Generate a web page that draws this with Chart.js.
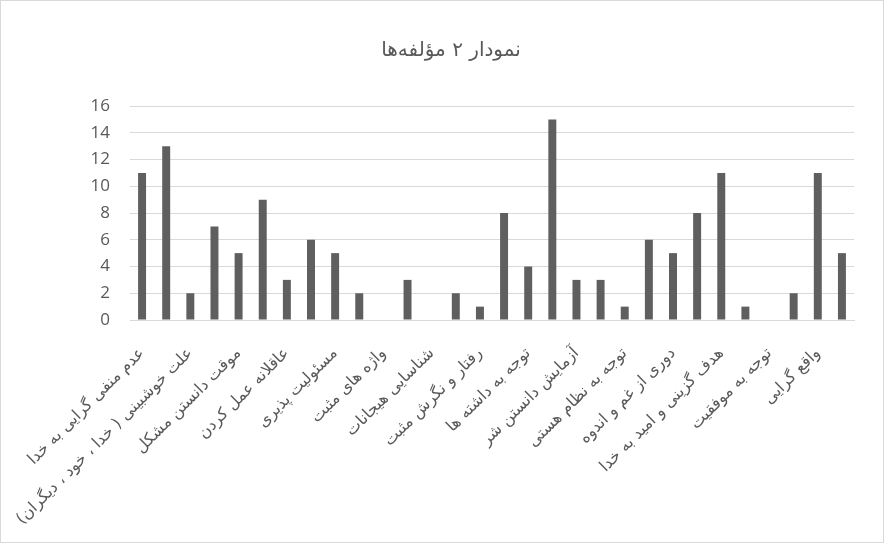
<!DOCTYPE html>
<html>
<head>
<meta charset="utf-8">
<script src="https://cdn.jsdelivr.net/npm/chart.js@4"></script>
<style>
  html, body { margin: 0; padding: 0; background: #fff; }
  #wrap { position: relative; width: 884px; height: 543px; box-sizing: border-box; border: 1px solid #d9d9d9; }
  #chart { direction: rtl; }
</style>
</head>
<body>
<div id="wrap"><canvas id="chart" width="882" height="541"></canvas></div>
<script>
// عنوان نمودار
const chartTitle = 'نمودار ۲ مؤلفه\u200cها';

// فقط برچسب‌های خوانا (یکی در میان نمایش داده شده‌اند)
const categories = [
    'عدم منفی گرایی به خدا', '',
    'علت خوشبینی ( خدا ، خود ، دیگران)', '',
    'موقت دانستن مشکل', '',
    'عاقلانه عمل کردن', '',
    'مسئولیت پذیری', '',
    'واژه های مثبت', '',
    'شناسایی هیجانات', '',
    'رفتار و نگرش مثبت', '',
    'توجه به داشته ها', '',
    'آزمایش دانستن شر', '',
    'توجه به نظام هستی', '',
    'دوری از غم و اندوه', '',
    'هدف گزینی و امید به خدا', '',
    'توجه به موفقیت', '',
    'واقع گرایی', ''
];

const values = [11, 13, 2, 7, 5, 9, 3, 6, 5, 2, 0, 3, 0, 2, 1,
                8, 4, 15, 3, 3, 1, 6, 5, 8, 11, 1, 0, 2, 11, 5];

const yTicks = [0, 2, 4, 6, 8, 10, 12, 14, 16];

const ctx = document.getElementById('chart').getContext('2d');
const myChart = new Chart(ctx, {
    type: 'bar',
    data: {
        labels: categories,
        datasets: [{
            label: 'مؤلفه‌ها',
            data: values,
            backgroundColor: '#5f5f5f',
            barPercentage: 0.33,
            categoryPercentage: 1.0
        }]
    },
    options: {
        responsive: false,
        animation: false,
        devicePixelRatio: 1,
        layout: { padding: { left: 18, right: 0, top: 0, bottom: 0 } },
        plugins: {
            legend: { display: false },
            tooltip: { enabled: false },
            title: {
                display: true,
                text: chartTitle,
                color: '#595959',
                font: { family: 'DejaVu Sans', size: 20, weight: 'normal' },
                padding: { top: 38, bottom: 43 }
            }
        },
        scales: {
            x: {
                grid: { display: false, drawTicks: false },
                border: { display: true, color: '#d9d9d9', width: 1 },
                ticks: {
                    autoSkip: false,
                    maxRotation: 45,
                    minRotation: 45,
                    padding: 24,
                    color: '#595959',
                    font: { family: 'DejaVu Sans', size: 16 }
                },
                afterFit: function(scale) { scale.height = 222; }
            },
            y: {
                min: 0,
                max: 16,
                afterBuildTicks: function(scale) {
                    scale.ticks = yTicks.map(v => ({ value: v }));
                },
                grid: { color: '#d9d9d9', drawTicks: false },
                border: { display: false },
                ticks: {
                    padding: 20,
                    color: '#595959',
                    font: { family: 'Open Sans', size: 17 }
                },
                afterFit: function(scale) { scale.width = 111; }
            },
            // محور خالی سمت راست فقط برای فاصله
            yRight: {
                position: 'right',
                grid: { display: false, drawTicks: false },
                border: { display: false },
                ticks: { display: false },
                afterFit: function(scale) { scale.width = 29; }
            }
        }
    }
});
</script>
</body>
</html>
